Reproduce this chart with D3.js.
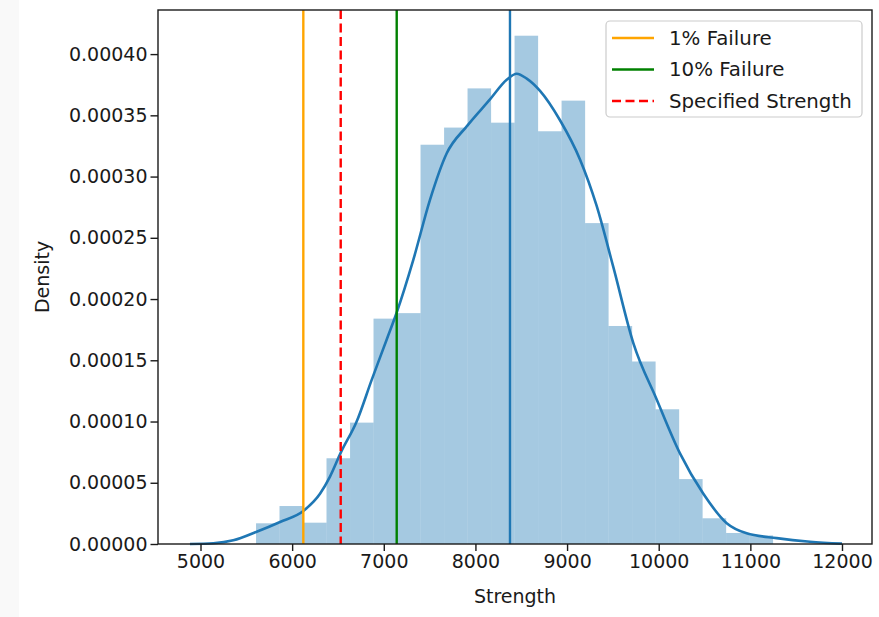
<!DOCTYPE html>
<html>
<head>
<meta charset="utf-8">
<script src="https://cdn.jsdelivr.net/npm/d3@7"></script>
<style>
  html, body { margin: 0; padding: 0; background: #ffffff; }
  svg { display: block; font-family: "DejaVu Sans", sans-serif; }
</style>
</head>
<body>
<svg id="chart" width="879" height="617"></svg>
<script>
// ---------- data ----------
const binEdges = [5606, 5862, 6119, 6375, 6632, 6888, 7145, 7401, 7658, 7914, 8171, 8427,
                  8684, 8940, 9197, 9453, 9710, 9966, 10223, 10479, 10736, 10992, 11248];
const binDensity = [0.0000169, 0.0000310, 0.0000174, 0.0000700, 0.0000991, 0.0001840,
                    0.0001885, 0.0003260, 0.0003400, 0.0003720, 0.0003440, 0.0004150,
                    0.0003370, 0.0003620, 0.0002620, 0.0001780, 0.0001490, 0.0001100,
                    0.0000530, 0.0000210, 0.0000090, 0.0000070];
const kdeX = [4885, 5140, 5358, 5613, 5868, 6122, 6304, 6413, 6533, 6704, 6868, 7032, 7141,
              7322, 7504, 7687, 7905, 8159, 8341, 8450, 8560, 8705, 8923, 9141, 9323, 9505,
              9723, 9978, 10232, 10487, 10742, 10960, 11288, 11651, 12000];
const kdeY = [0, 0.0000006, 0.000003, 0.00001, 0.000018, 0.000027, 0.000041, 0.000055,
              0.000075, 0.000100, 0.000134, 0.000167, 0.000189, 0.000232, 0.000281, 0.000319,
              0.000341, 0.000363, 0.000379, 0.000384, 0.000380, 0.000370, 0.000346, 0.000314,
              0.000276, 0.000226, 0.000164, 0.000118, 0.000074, 0.000041, 0.000017, 0.0000087,
              0.0000048, 0.0000019, 0.0000003];
const vlineNames = ["1% Failure", "10% Failure", "Specified Strength", "Mean"];
const vlineValues = [6122, 7141, 6530, 8377];
const xTicks = [5000, 6000, 7000, 8000, 9000, 10000, 11000, 12000];
const yTicks = [0, 0.00005, 0.0001, 0.00015, 0.0002, 0.00025, 0.0003, 0.00035, 0.0004];
const xLabel = "Strength";
const yLabel = "Density";
const legendNames = ["1% Failure", "10% Failure", "Specified Strength"];

// ---------- layout ----------
const svg = d3.select("#chart");
const L = 158, R = 872, T = 10, B = 544;
const FS = 19;
const x = d3.scaleLinear().domain([4536.2, 12327.4]).range([L, R]);
const y = d3.scaleLinear().domain([0, 0.000436]).range([B, T]);

svg.append("rect").attr("x", 0).attr("y", 0).attr("width", 19).attr("height", 617)
  .attr("fill", "#f9f9f9");

const styles = {
  "1% Failure": { color: "#ffa500", dash: null },
  "10% Failure": { color: "#008000", dash: null },
  "Specified Strength": { color: "#ff0000", dash: "9,4.5" },
  "Mean": { color: "#1f77b4", dash: null }
};

// histogram
const bins = binDensity.map((d, i) => ({ x0: binEdges[i], x1: binEdges[i + 1], d }));
svg.append("g").selectAll("rect").data(bins).join("rect")
  .attr("x", b => x(b.x0))
  .attr("width", b => x(b.x1) - x(b.x0))
  .attr("y", b => y(b.d))
  .attr("height", b => y(0) - y(b.d))
  .attr("fill", "#1f77b4")
  .attr("fill-opacity", 0.4);

// KDE
const kde = kdeX.map((v, i) => [v, kdeY[i]]);
svg.append("path").datum(kde)
  .attr("fill", "none")
  .attr("stroke", "#1f77b4")
  .attr("stroke-width", 2.6)
  .attr("d", d3.line().x(d => x(d[0])).y(d => y(d[1])).curve(d3.curveMonotoneX));

// vertical lines
svg.append("g").selectAll("line").data(vlineNames).join("line")
  .attr("x1", (n, i) => x(vlineValues[i]))
  .attr("x2", (n, i) => x(vlineValues[i]))
  .attr("y1", T).attr("y2", B)
  .attr("stroke", n => styles[n].color)
  .attr("stroke-width", 2.4)
  .attr("stroke-dasharray", n => styles[n].dash);

// axes frame
svg.append("rect").attr("x", L).attr("y", T).attr("width", R - L).attr("height", B - T)
  .attr("fill", "none").attr("stroke", "#1a1a1a").attr("stroke-width", 1.4);

// x axis
const xAxis = svg.append("g").attr("transform", `translate(0,${B})`)
  .call(d3.axisBottom(x).tickValues(xTicks).tickFormat(d3.format("d")).tickSize(7).tickPadding(4));
xAxis.select(".domain").remove();
xAxis.selectAll("line").attr("stroke", "#1a1a1a").attr("stroke-width", 1.4);
xAxis.selectAll("text").attr("font-size", FS).attr("fill", "#1a1a1a")
  .attr("font-family", "DejaVu Sans");

// y axis
const yAxis = svg.append("g").attr("transform", `translate(${L},0)`)
  .call(d3.axisLeft(y).tickValues(yTicks).tickFormat(d3.format(".5f")).tickSize(7.5).tickPadding(3));
yAxis.select(".domain").remove();
yAxis.selectAll("line").attr("stroke", "#1a1a1a").attr("stroke-width", 1.4);
yAxis.selectAll("text").attr("font-size", FS).attr("fill", "#1a1a1a")
  .attr("font-family", "DejaVu Sans");

// axis labels
svg.append("text").attr("x", (L + R) / 2).attr("y", 603)
  .attr("text-anchor", "middle").attr("font-size", FS).attr("fill", "#1a1a1a")
  .text(xLabel);
svg.append("text").attr("transform", `translate(49,${(T + B) / 2}) rotate(-90)`)
  .attr("text-anchor", "middle").attr("font-size", FS).attr("fill", "#1a1a1a")
  .text(yLabel);

// legend
const lg = svg.append("g");
lg.append("rect").attr("x", 606).attr("y", 21).attr("width", 256).attr("height", 96)
  .attr("rx", 4).attr("fill", "#ffffff").attr("fill-opacity", 0.8)
  .attr("stroke", "#cccccc").attr("stroke-width", 1.2);
legendNames.forEach((n, i) => {
  const cy = 38 + i * 31.5;
  lg.append("line").attr("x1", 612).attr("x2", 654).attr("y1", cy).attr("y2", cy)
    .attr("stroke", styles[n].color).attr("stroke-width", 2.4)
    .attr("stroke-dasharray", styles[n].dash);
  lg.append("text").attr("x", 669).attr("y", cy).attr("dy", "0.35em")
    .attr("font-size", 19.8).attr("fill", "#1a1a1a").text(n);
});
</script>
</body>
</html>
